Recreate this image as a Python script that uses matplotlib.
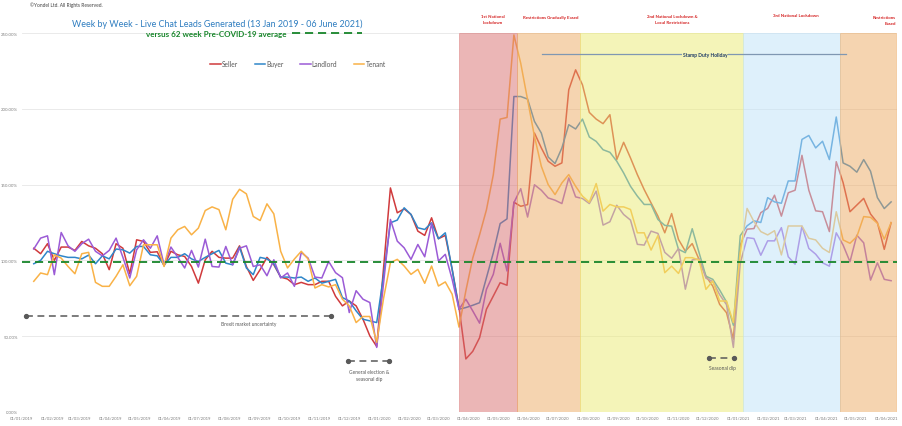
import matplotlib
matplotlib.use("Agg")
import matplotlib.pyplot as plt
import matplotlib.dates as mdates
import numpy as np

plt.rcParams['font.family'] = ['Lato', 'DejaVu Sans']

# Weekly data, 13 Jan 2019 - 06 Jun 2021 (% of pre-COVID average)
weeks = np.arange(np.datetime64('2019-01-13'), np.datetime64('2021-06-07'), np.timedelta64(7, 'D'))

seller = [108, 104.4, 111, 100, 108.8, 108.8, 106.6, 112.5, 109.6, 108, 104.4, 93.9, 111, 108, 91.2, 113.6,
          112.5, 105.3, 105.7, 96.5, 106, 103.7, 102.6, 96, 85, 100.4, 106, 102, 101.5, 101.5, 109.6, 96,
          86.8, 93.9, 102, 97.1, 89, 87.7, 84, 85.5, 84, 84, 86.2, 86.2, 76.3, 70, 73.2, 70, 61.2, 50.2,
          43.2, 95, 147.8, 131.4, 134, 130.3, 119.3, 116.5, 128.1, 114.3, 116.5, 94.1, 69, 35, 40, 49,
          67.8, 76.5, 85.3, 83.6, 138.4, 135.7, 136.8, 184, 174.2, 165.4, 162.1, 164.3, 212.5, 225.7, 215.8,
          197.6, 193.2, 190.2, 196.1, 166.5, 177.9, 167.6, 156.6, 146.7, 137.9, 129.2, 118.2, 130.9, 113.8,
          106.1, 111.1, 100.6, 89.6, 83, 71, 65.5, 48, 110, 120.6, 121, 131.5, 134.3, 143, 129.2, 144.6,
          146.3, 169.3, 146.3, 132.7, 132.1, 119, 165.1, 151.3, 132.1, 136.5, 140.9, 130.6, 124.9, 107.3, 124.9]

buyer = [97.8, 100, 106, 104.4, 103, 102, 102, 101, 103.5, 97.8, 103, 101, 107.5, 107, 104.8, 109.2,
         109.2, 103.7, 103, 97.1, 102, 102, 104.4, 101, 99.3, 102, 104.4, 106.6, 98.2, 97.1, 108.8, 95,
         90.6, 102, 101, 97.8, 89, 89, 88.4, 89, 86.2, 88.4, 85, 86.2, 87.5, 75.5, 73.2, 66.7, 61.2, 60.1,
         59, 90, 124.8, 126.6, 134.7, 130.3, 121.5, 120.4, 124.8, 114.3, 118.2, 94.1, 67.8, 68.9, 70.4, 72.1,
         88.6, 105, 124.3, 127.4, 208.1, 208.1, 206.4, 191.7, 184, 168.2, 163.9, 174.2, 189.5, 186.7, 193.2,
         181.4, 178.5, 173, 171.3, 165.4, 157.7, 148.9, 142.4, 136.9, 136.9, 127, 123.1, 122.6, 107.3,
         105.1, 120.9, 105.1, 89.6, 87.5, 80.5, 72.6, 57.2, 116.3, 122.8, 126.1, 125, 141.4, 138.6, 137.7,
         152.4, 152.4, 179.8, 182.4, 174.2, 178.6, 166.5, 194.6, 164.3, 162.1, 158.2, 166.5, 158.8, 141.4,
         134.2, 138.6]

landlord = [107.5, 114.7, 116.2, 90.6, 118.4, 109.6, 106, 111, 114, 106, 103, 106.6, 114.7, 102, 88.4, 107,
            113.6, 108, 116.2, 97.1, 108.8, 102, 95, 106.6, 95.6, 114, 96, 95.6, 109.2, 97.1, 108, 109.6,
            96, 97.1, 89.9, 100.4, 88.4, 91.7, 82.9, 105.3, 101.5, 89, 88.4, 99.3, 91.9, 88.6, 65.6, 80,
            74.4, 72.2, 42.6, 85, 127, 112.7, 108.3, 100.7, 110.5, 102.4, 124.4, 99.6, 104, 87.5, 67.8, 74.4,
            66.7, 58.6, 80.9, 90.8, 111.3, 93, 138, 147.3, 128.6, 149.9, 146.3, 141.2, 139.7, 137.5, 154.4,
            141.9, 140.8, 137.5, 145.7, 123.3, 125.5, 136.4, 130.3, 126.6, 110.6, 110.1, 119.3, 117.8, 105.3,
            101.4, 107.9, 81, 100.3, 101, 88.3, 86, 77.4, 70.8, 42.6, 98, 115, 114.4, 103.4, 112.9, 112.9,
            121.6, 102.4, 97.5, 122.6, 107.9, 104.1, 98.4, 96.2, 118.2, 110.1, 99.1, 116.6, 111.6, 87, 98.4,
            87.5, 86.6]

tenant = [86.2, 91.7, 90.6, 103.7, 101.5, 96, 91.2, 104.4, 105.3, 85.5, 82.9, 82.9, 89.5, 97.1, 83.3, 89.5,
          110.3, 110.3, 110.3, 96, 114.7, 120.2, 122.4, 116.9, 121.3, 132.9, 135.3, 133.5, 120.2, 140.3,
          146.9, 143.9, 129, 126.3, 137.3, 130.7, 106, 95, 100.9, 106, 100.9, 81.8, 84, 82.5, 84, 74.4, 70,
          59, 63, 63, 45.9, 75, 98.5, 100.7, 96.3, 90.8, 94.1, 84.9, 96.3, 83.1, 85.8, 77.7, 56, 80, 101.5,
          116.9, 133.4, 156.5, 193.2, 194.3, 248.7, 230, 205.9, 181.8, 162.1, 150, 143.4, 151.1, 156.6,
          148.9, 142.4, 138.4, 150.7, 132.5, 136.9, 135.3, 135.3, 133.6, 118.2, 118.2, 106.8, 116.4, 91.9,
          96.2, 91.4, 101.8, 101.8, 100.2, 80.9, 86.4, 73.2, 73.2, 59, 105, 134.3, 125.6, 119, 116.8, 119.6,
          103.6, 122.7, 122.7, 122.7, 114.6, 113.5, 108, 105.2, 132.1, 113.5, 111.3, 115.7, 128.9, 128.4,
          124.5, 114, 124.9]

series_names = ["Seller", "Buyer", "Landlord", "Tenant"]
series_colors = ["#D03A3C", "#2F86C9", "#9B5BD6", "#F9B247"]

# COVID periods
periods = [("2020-03-22", "2020-05-20", "#D86E6E"),
           ("2020-05-20", "2020-07-23", "#EDAA62"),
           ("2020-07-23", "2021-01-06", "#EBEB72"),
           ("2021-01-06", "2021-04-15", "#BFE3F9"),
           ("2021-04-15", "2021-06-11", "#EDAA62")]
period_labels = [("1st National\nLockdown", 493, 20, 'center'),
                 ("Restrictions Gradually Eased", 551, 18, 'center'),
                 ("2nd National Lockdown &\nLocal Restrictions", 672, 20, 'center'),
                 ("3rd National Lockdown", 796, 16, 'center'),
                 ("Restrictions\nEased", 896, 21, 'right')]

W, H = 902, 427
fig = plt.figure(figsize=(W / 100, H / 100), dpi=100)
ax = fig.add_axes([22 / W, 1 - 413 / H, 875 / W, 379 / H])

for name, vals, col in zip(series_names, [seller, buyer, landlord, tenant], series_colors):
    ax.plot(weeks, vals, color=col, lw=1.1, label=name, zorder=2)

for start, end, col in periods:
    ax.axvspan(np.datetime64(start), np.datetime64(end), facecolor=col, alpha=0.5,
               edgecolor=col, lw=0.6, zorder=3)

# pre-COVID average
ax.axhline(99, color="#17852A", lw=1.3, ls=(0, (4.5, 2.7)), zorder=4)

# stamp duty holiday
ax.plot([np.datetime64("2020-06-15"), np.datetime64("2021-04-21")], [236, 236],
        color="#7F97B2", lw=0.9, zorder=5)
ax.text(np.datetime64("2020-11-28"), 236, "Stamp Duty Holiday", color="#1F3B66", fontsize=3.6,
        fontweight='bold', ha='center', va='center', zorder=6,
        bbox=dict(facecolor="#F5F5B9", edgecolor='none', pad=0.6))

# annotations
notes = [("2019-01-05", "2019-11-12", 63.6, "Brexit market uncertainty", 249, 325),
         ("2019-11-30", "2020-01-11", 33.6, "General election &\nseasonal dip", 369, 376),
         ("2020-12-02", "2020-12-28", 35.5, "Seasonal dip", 722, 369)]
for d1, d2, yv, txt, tx, ty in notes:
    ax.plot([np.datetime64(d1), np.datetime64(d2)], [yv, yv], color="#595959", lw=1.1,
            ls=(0, (4.5, 3)), marker='o', ms=2.8, zorder=6)
    fig.text(tx / W, 1 - ty / H, txt, color="#595959", fontsize=3.5, ha='center', va='center',
             linespacing=1.3)

ax.set_xlim(np.datetime64("2019-01-01"), np.datetime64("2021-06-12"))
ax.set_ylim(0, 250)
ax.set_yticks(np.arange(0, 251, 50))
ax.set_yticklabels([f"{v:.2f}%" for v in np.arange(0, 251, 50)])
ax.xaxis.set_major_locator(mdates.MonthLocator())
ax.xaxis.set_major_formatter(mdates.DateFormatter("%d/%m/%Y"))
ax.tick_params(axis='both', length=0, labelsize=3.1, labelcolor="#7F7F7F", pad=3)
ax.grid(axis='y', color="#E6E6E6", lw=0.6, zorder=0)
ax.set_axisbelow(True)
for s in ax.spines.values():
    s.set_visible(False)

fig.text(30 / W, 1 - 5 / H, "©Yondel Ltd. All Rights Reserved.", fontsize=3.5, color="#404040",
         ha='left', va='center')
fig.text(217 / W, 1 - 24 / H, "Week by Week - Live Chat Leads Generated (13 Jan 2019 - 06 June 2021)",
         fontsize=6.4, color="#2E7DC0", ha='center', va='center')
fig.text(287 / W, 1 - 34 / H, "versus 62 week Pre-COVID-19 average", fontsize=5.8, color="#17852A",
         fontweight='bold', ha='right', va='center')
fig.add_artist(plt.Line2D([292 / W, 362 / W], [1 - 34 / H, 1 - 34 / H], color="#17852A", lw=1.3,
                          ls=(0, (4.5, 2.7))))

for txt, x, y, ha in period_labels:
    fig.text(x / W, 1 - y / H, txt, fontsize=3.2, color="#D42020", fontweight='bold', ha=ha,
             va='center', linespacing=1.4, multialignment=ha)

ax.legend(loc='center', bbox_to_anchor=(298 / W, 1 - 65 / H), bbox_transform=fig.transFigure,
          ncol=4, frameon=False, fontsize=4.8, handlelength=1.6, handletextpad=0.2, columnspacing=2.4,
          labelcolor="#595959")

fig.savefig("out.png", dpi=100)
